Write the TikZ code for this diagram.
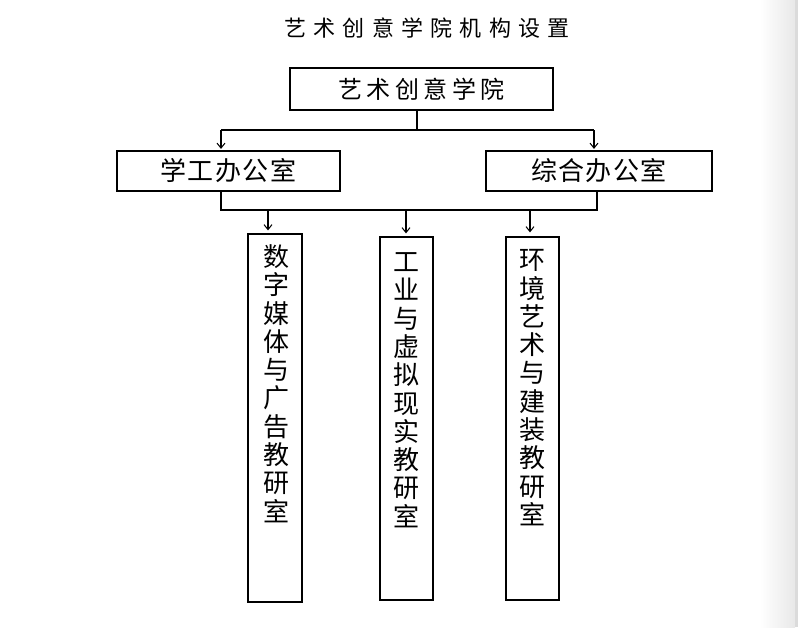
\documentclass[tikz,border=0pt]{standalone}
\usepackage{fontspec}
\newfontfamily\cjk{Noto Sans CJK SC}
\usetikzlibrary{arrows.meta}
\begin{document}
\begin{tikzpicture}[x=1pt,y=-1pt,
  box/.style={draw=black,line width=1.2pt,rectangle,inner sep=0pt},
  conn/.style={draw=black,line width=1.1pt},
  arr/.style={conn,-{Straight Barb[length=5pt,width=8pt,line width=1pt]}},
  vtext/.style={anchor=north,align=center,inner sep=0pt,font=\cjk\fontsize{26}{28.3}\selectfont}
]
\useasboundingbox (0,0) rectangle (798,627);
\fill[white] (0,0) rectangle (798,627);
\shade[left color=white,right color=black!9] (760,0) rectangle (795,627);
\fill[black!14] (795,0) rectangle (798,627);

% title
\node[inner sep=0pt,font=\cjk\fontsize{22}{24}\selectfont] (title) at (427,28)
  {艺\kern7.3pt 术\kern7.3pt 创\kern7.3pt 意\kern7.3pt 学\kern7.3pt 院\kern7.3pt 机\kern7.3pt 构\kern7.3pt 设\kern7.3pt 置};

% top box
\node[box,minimum width=263pt,minimum height=42pt,font=\cjk\fontsize{24}{26}\selectfont] (top) at (421.5,89)
  {艺\kern4.5pt 术\kern4.5pt 创\kern4.5pt 意\kern4.5pt 学\kern4.5pt 院};

% offices
\node[box,minimum width=223pt,minimum height=40pt,font=\cjk\fontsize{26}{28}\selectfont] (left) at (228.5,171)
  {学\kern1.5pt 工\kern1.5pt 办\kern1.5pt 公\kern1.5pt 室};
\node[box,minimum width=226pt,minimum height=40pt,font=\cjk\fontsize{26}{28}\selectfont] (right) at (599,171)
  {综\kern1.5pt 合\kern1.5pt 办\kern1.5pt 公\kern1.5pt 室};

% bottom boxes
\node[box,minimum width=54pt,minimum height=368pt] (b1) at (275,418) {};
\node[box,minimum width=53pt,minimum height=363pt] (b2) at (406.5,418.5) {};
\node[box,minimum width=53pt,minimum height=363pt] (b3) at (532.5,418.5) {};
\node[vtext] (t1) at ([yshift=-11pt,xshift=1pt]b1.north) {数\\字\\媒\\体\\与\\广\\告\\教\\研\\室};
\node[vtext] (t2) at ([yshift=-16pt]b2.north) {工\\业\\与\\虚\\拟\\现\\实\\教\\研\\室};
\node[vtext] (t3) at ([yshift=-13pt]b3.north) {环\\境\\艺\\术\\与\\建\\装\\教\\研\\室};

% connectors level 1
\coordinate (j1) at (417,130);
\coordinate (j1l) at (221,130);
\coordinate (j1r) at (594,130);
\draw[conn] (top.south -| j1) -- (j1);
\draw[conn] (j1l) -- (j1r);
\draw[arr,shorten >=1.5pt] (j1l) -- (left.north -| j1l);
\draw[arr,shorten >=1.5pt] (j1r) -- (right.north -| j1r);

% connectors level 2
\coordinate (j2l) at (221,210);
\coordinate (j2r) at (597,210);
\coordinate (a1) at (268,210);
\coordinate (a2) at (406,210);
\coordinate (a3) at (530,210);
\draw[conn] (left.south -| j2l) -- (j2l) -- (j2r) -- (right.south -| j2r);
\draw[arr,shorten >=3pt] (a1) -- (b1.north -| a1);
\draw[arr,shorten >=3pt] (a2) -- (b2.north -| a2);
\draw[arr,shorten >=4pt] (a3) -- (b3.north -| a3);
\end{tikzpicture}
\end{document}
